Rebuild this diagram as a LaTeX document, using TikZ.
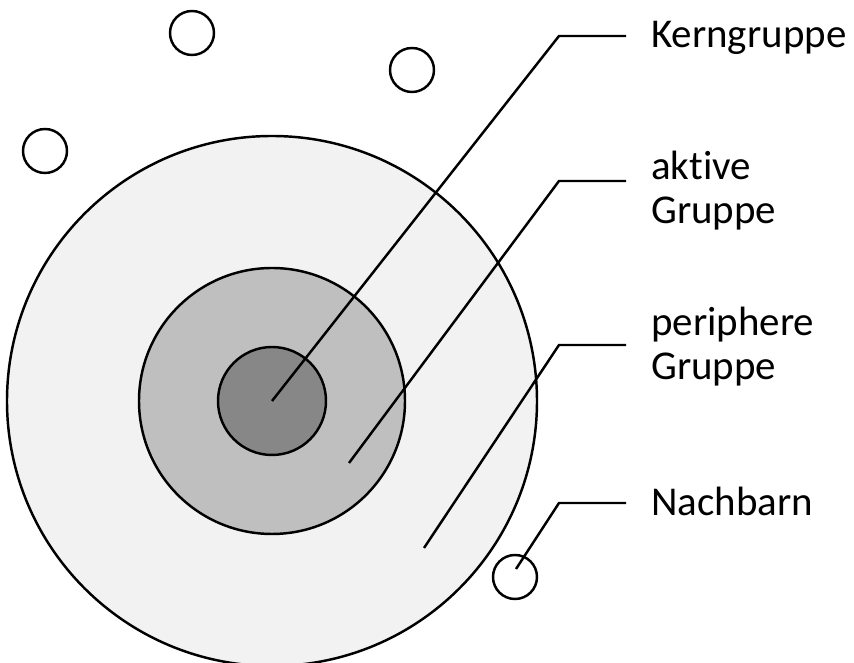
\documentclass[tikz,border=0pt]{standalone}
\usepackage{fontspec}
\setmainfont{Carlito}[Ligatures=NoCommon]
\usepackage{tikz}
\tikzset{
    kreis/.style={circle, draw, line width=1.4pt, inner sep=0pt},
    nachbar/.style={kreis, fill=white, minimum size=0.88cm},
    beschriftung/.style={anchor=base west, align=left, inner sep=0pt,
        font=\fontsize{23.3}{25.2}\selectfont}
}

\begin{document}
\begin{tikzpicture}[line width=1.4pt]
        \useasboundingbox (-5.44,-5.24) rectangle (11.64,8.02);
        % concentric groups
        \node[kreis, fill=black!5, minimum size=10.6cm] (peripher) at (0,0) {};
        \node[kreis, fill=black!25, minimum size=5.32cm] (aktiv) at (0,0) {};
        \node[kreis, fill=black!47, minimum size=2.16cm] (kern) at (0,0) {};
        % neighbours outside
        \node[nachbar] (n1) at (-1.6,7.36) {};
        \node[nachbar] (n2) at (2.8,6.62) {};
        \node[nachbar] (n3) at (-4.54,5.0) {};
        \node[nachbar] (n4) at (4.86,-3.52) {};
        % labels (base = last line)
        \node[beschriftung] (tkern) at (7.56,7.06) {Kerngruppe};
        \node[beschriftung] (taktiv) at (7.56,3.54) {aktive\\Gruppe};
        \node[beschriftung] (tperipher) at (7.56,0.42) {periphere\\Gruppe};
        \node[beschriftung] (tnachbar) at (7.56,-2.3) {Nachbarn};
        % leader lines
        \coordinate (kkern) at (5.74,7.3);
        \coordinate (kaktiv) at (5.74,4.4);
        \coordinate (kperipher) at (5.74,1.12);
        \coordinate (knachbar) at (5.74,-2.04);
        \coordinate (paktiv) at (1.54,-1.24);
        \coordinate (pperipher) at (3.04,-2.94);
        \coordinate (pnachbar) at (4.88,-3.36);
        \draw (kern.center) -- (kkern) -- ([xshift=-0.48cm]tkern.west |- kkern);
        \draw (paktiv) -- (kaktiv) -- ([xshift=-0.48cm]taktiv.west |- kaktiv);
        \draw (pperipher) -- (kperipher) -- ([xshift=-0.48cm]tperipher.west |- kperipher);
        \draw (pnachbar) -- (knachbar) -- ([xshift=-0.48cm]tnachbar.west |- knachbar);
\end{tikzpicture}
\end{document}
